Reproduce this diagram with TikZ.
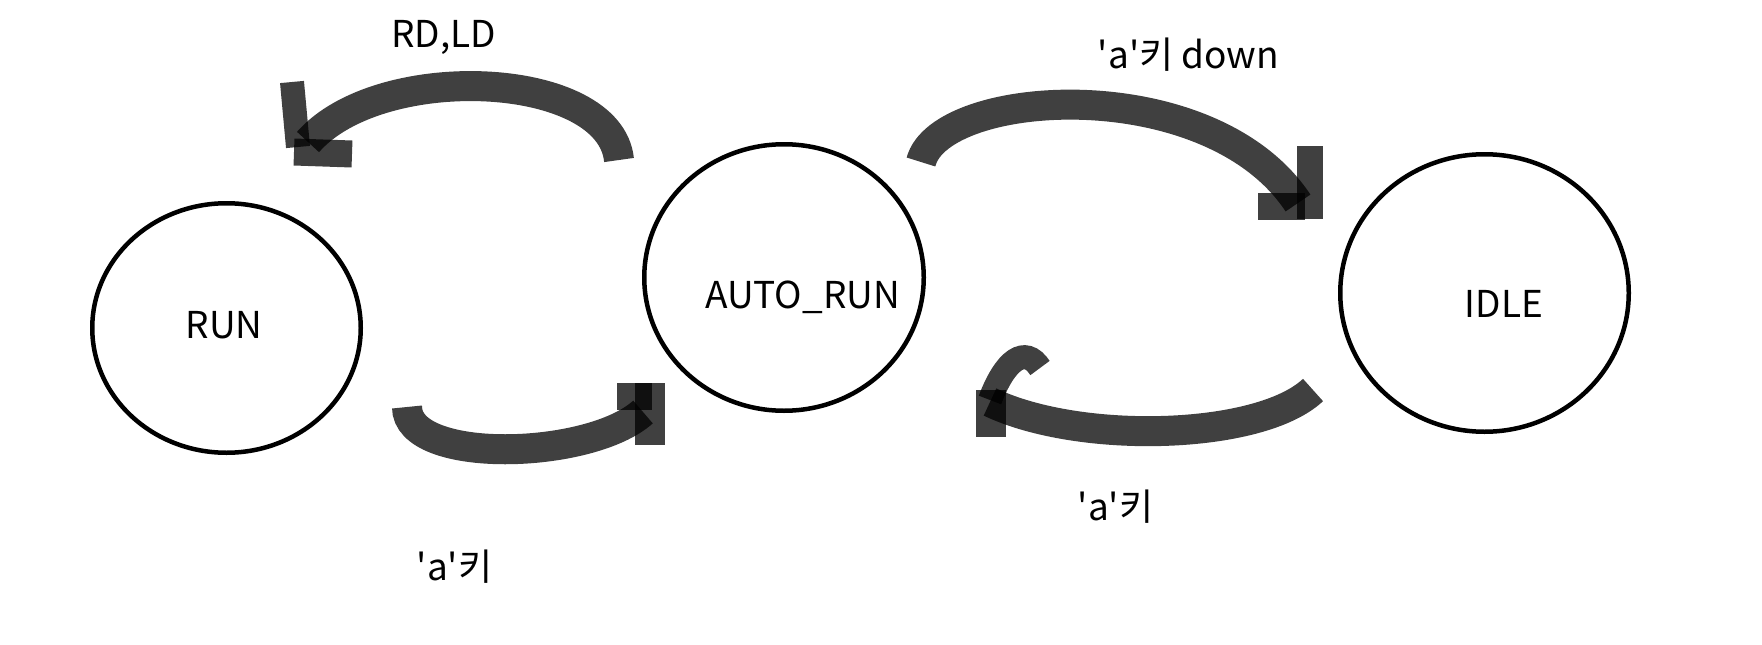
\documentclass[tikz,border=0pt]{standalone}
\usepackage{fontspec}
\setmainfont{Noto Sans CJK KR}[Ligatures=TeXOff]
\usetikzlibrary{shapes.geometric}
\begin{document}
\begin{tikzpicture}[x=1pt, y=-1pt,
          state/.style = {shape=ellipse, draw, line width=4.5pt, inner sep=0pt},
          txt/.style = {font=\fontsize{37}{44}\selectfont, anchor=base, inner sep=0pt},
          stroke/.style = {draw=black, draw opacity=0.75, line width=30pt},
          barb/.style = {draw=black, draw opacity=0.75, line width=27pt}]
  \useasboundingbox (0,0) rectangle (1762,645);
  \node[state, minimum width=268.5pt, minimum height=249.5pt,
        label={[txt, anchor=base, xshift=-2.5pt, yshift=3pt]center:RUN}] (run) at (226.5,328) {};
  \node[state, minimum width=279.5pt, minimum height=266.5pt,
        label={[txt, anchor=base, xshift=18.5pt, yshift=-19.5pt]center:AUTO\_RUN}] (auto) at (784,277.5) {};
  \node[state, minimum width=288.5pt, minimum height=277.5pt,
        label={[txt, anchor=base, xshift=19.5pt, yshift=-11pt]center:IDLE}] (idle) at (1484.5,293) {};
  \coordinate (autorun) at (619,160);
  \coordinate (runin) at (308,142);
  \coordinate (autoidle) at (921,162);
  \coordinate (idlein) at (1298,203);
  \coordinate (runauto) at (407,407);
  \coordinate (autoin) at (643,412);
  \coordinate (idleauto) at (1313,390);
  \coordinate (autoin2) at (990,402);
  \draw[stroke] (autorun) .. controls (610,70) and (380,60) .. (runin);
  \draw[barb, line width=24pt] (298,147) -- (292,82);
  \draw[barb] (294,152) -- (352,154);
  \draw[stroke] (autoidle) .. controls (940,88) and (1210,70) .. (idlein);
  \draw[barb, line width=26pt] (1310,219) -- (1310,146);
  \draw[barb] (1305,206) -- (1258,206);
  \draw[stroke] (runauto) .. controls (407,465) and (590,460) .. (autoin);
  \draw[barb] (617,396) -- (652,396);
  \draw[barb, line width=30pt] (650,383) -- (650,445);
  \draw[stroke] (idleauto) .. controls (1260,440) and (1080,445) .. (autoin2);
  \draw[barb, line width=30pt] (991,390) -- (991,437);
  \draw[barb, line width=24pt] (990,400) .. controls (1005,360) and (1025,345) .. (1040,368);
  \node[txt] (lrdld) at (443.5,47) {RD,LD};
  \node[txt] (ladown) at (1188.5,68) {'a'키 down};
  \node[txt] (lakeyrun) at (454.5,580) {'a'키};
  \node[txt] (lakeyidle) at (1115.5,520) {'a'키};
\end{tikzpicture}
\end{document}
